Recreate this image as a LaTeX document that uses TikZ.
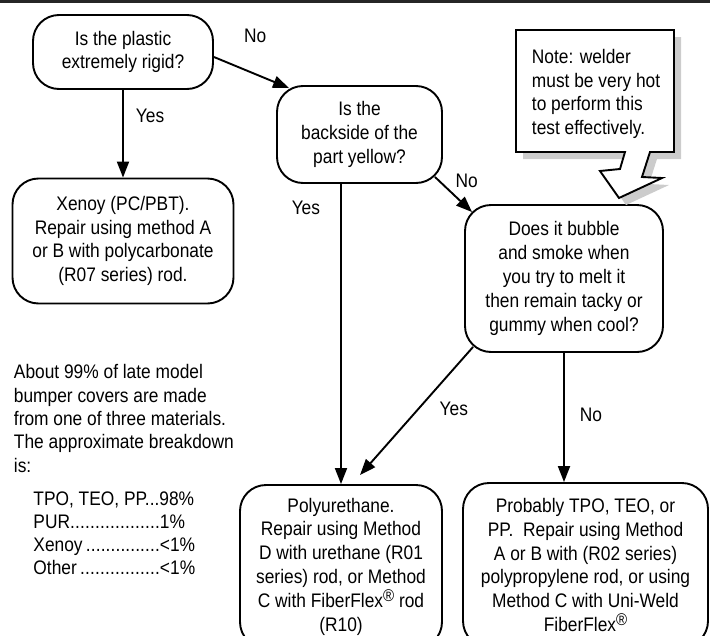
\documentclass[tikz,border=0pt]{standalone}
\usepackage{fontspec}
\setmainfont{Liberation Sans}[FakeStretch=0.885]
\usetikzlibrary{arrows.meta,positioning}

\newcommand{\leaderdots}{\xleaders\hbox{.}\hfill}
\newcommand{\regmark}{\raisebox{0.3em}{\fontsize{17}{17}\selectfont\textregistered}}

\begin{document}
\begin{tikzpicture}[x=1pt,y=-1pt,->,>={Triangle[length=16pt,width=12pt]},
            line width=1.9pt,font=\fontsize{19.6}{23.8}\selectfont]
            \tikzstyle{every node}=[inner sep=0pt]
            \tikzstyle{question}=[draw,rounded corners=26pt,align=center]
            \tikzstyle{answer}=[draw,rounded corners=26pt,align=center]
            \path[use as bounding box,clip] (0,0) rectangle (710,635);
            \fill[black!85] (0,0) rectangle (710,3);

            \node[question,minimum width=180pt,minimum height=74pt] (rigid) at (123,52)
                {Is the plastic\\extremely rigid?};
            \node[answer,minimum width=221pt,minimum height=125pt] (xenoy) at (123,241)
                {Xenoy (PC/PBT).\\Repair using method A\\or B with polycarbonate\\(R07 series) rod.};
            \node[question,minimum width=165pt,minimum height=97pt] (backside) at (359.5,134.5)
                {Is the\\backside of the\\part yellow?};
            \node[question,minimum width=198pt,minimum height=147pt] (bubble) at (564,278.5)
                {Does it bubble\\and smoke when\\you try to melt it\\then remain tacky or\\gummy when cool?};
            \node[answer,minimum width=202pt,minimum height=163pt] (poly) at (341,566.5)
                {Polyurethane.\\Repair using Method\\D with urethane (R01\\series) rod, or Method\\C with FiberFlex\regmark{} rod\\(R10)};
            \node[answer,minimum width=245pt,minimum height=164pt] (prob) at (585.5,565)
                {Probably TPO, TEO, or\\PP.\ \ Repair using Method\\A or B with (R02 series)\\polypropylene rod, or using\\Method C with Uni-Weld\\FiberFlex\regmark};

            % note balloon
            \fill[gray!40,shift={(7,7)}] (516,30) -- (674,30) -- (674,152) -- (650,152) -- (642,177)
                -- (662,178) -- (619,198) -- (600,171) -- (620,169) -- (625,152) -- (516,152) -- cycle;
            \draw[-,fill=white] (516,30) -- (674,30) -- (674,152) -- (650,152) -- (642,177)
                -- (662,178) -- (619,198) -- (600,171) -- (620,169) -- (625,152) -- (516,152) -- cycle;
            \node[anchor=west,align=left] (note) at (531,94)
                {Note: welder\\must be very hot\\to perform this\\test effectively.};

            % side text
            \node[anchor=west,align=left,font=\fontsize{19.6}{23.3}\selectfont] (about) at (13,418.5)
                {About 99\% of late model\\bumper covers are made\\from one of three materials.\\The approximate breakdown\\is:};
            \node[anchor=west,align=left,font=\fontsize{19.6}{23}\selectfont] (breakdown) at (32.5,533.5)
                {TPO, TEO, PP...98\%\\
                 \makebox[126.5pt][l]{PUR\leaderdots}1\%\\
                 \makebox[126.5pt][l]{Xenoy\,\leaderdots}<1\%\\
                 \makebox[126.5pt][l]{Other\,\leaderdots}<1\%};

            \path[->]
                % from rigid
                ([yshift=-5pt]rigid.east) edge node[pos=.55,above=30pt] {No}
                    ([xshift=13pt,yshift=-3pt]backside.north west)
                (rigid) edge node[pos=.29,right=12pt] {Yes} (xenoy)

                % from backside
                (backside.south -| poly) edge node[pos=.08,left=20pt] {Yes} (poly)
                ([shift={(-8pt,7pt)}]backside.south east) edge node[pos=.1,right=16pt] {No}
                    ([shift={(8pt,-8pt)}]bubble.north west)

                % from bubble
                ([shift={(9pt,6pt)}]bubble.south west) edge node[pos=.48,right=20pt] {Yes}
                    ([shift={(19pt,9pt)}]poly.north)
                (bubble) edge node[pos=.48,right=15pt] {No} (bubble |- prob.north)
                ;
\end{tikzpicture}
\end{document}
